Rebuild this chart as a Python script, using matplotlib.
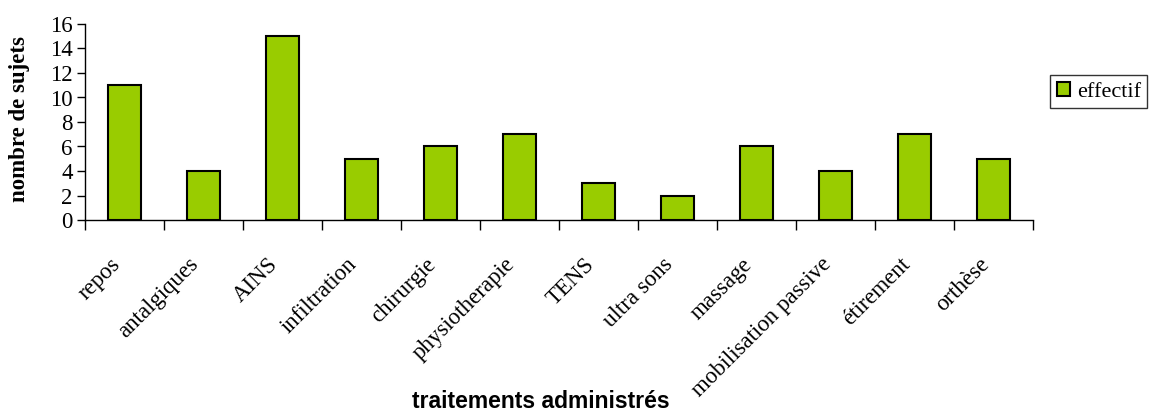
import matplotlib
matplotlib.use("Agg")
import matplotlib.pyplot as plt
import matplotlib.transforms as mtransforms
import numpy as np

categories = ["repos", "antalgiques", "AINS", "infiltration", "chirurgie",
              "physiotherapie", "TENS", "ultra sons", "massage",
              "mobilisation passive", "étirement", "orthèse"]
effectif = [11, 4, 15, 5, 6, 7, 3, 2, 6, 4, 7, 5]
yticks = [0, 2, 4, 6, 8, 10, 12, 14, 16]

SERIF = "Liberation Serif"
SANS = "Liberation Sans"
GREEN = "#99CC00"
FS = 16.5

fig = plt.figure(figsize=(11.49, 4.15), dpi=100)
ax = fig.add_axes([85 / 1149, 1 - 220 / 415, (1033 - 85) / 1149, (220 - 24) / 415])

x = np.arange(len(categories))
ax.bar(x, effectif, width=0.42, color=GREEN, edgecolor="black", linewidth=1.5,
       label="effectif", zorder=3)

ax.set_xlim(-0.5, len(categories) - 0.5)
ax.set_ylim(0, 16)
ax.set_yticks(yticks)
ax.set_yticklabels([str(v) for v in yticks], fontfamily=SERIF, fontsize=FS)
ax.tick_params(axis="y", direction="out", length=6, width=1, pad=3)

# x ticks sit between categories, labels at category centres
ax.set_xticks(np.arange(len(categories) + 1) - 0.5)
ax.set_xticklabels([])
ax.tick_params(axis="x", direction="out", length=7, width=1)
offset = mtransforms.ScaledTranslation(-15 / 100, -34 / 100, fig.dpi_scale_trans)
for i, name in enumerate(categories):
    ax.text(i, 0, name, rotation=45, ha="right", va="top", rotation_mode="anchor",
            fontfamily=SERIF, fontsize=FS,
            transform=ax.transData + offset, clip_on=False)

for s in ["top", "right"]:
    ax.spines[s].set_visible(False)
for s in ["left", "bottom"]:
    ax.spines[s].set_linewidth(1)

fig.text(20 / 1149, 1 - 119 / 415, "nombre de sujets", rotation=90, ha="center",
         va="center", fontfamily=SERIF, fontweight="bold", fontsize=FS)
fig.text(541 / 1149, 1 - 401 / 415, "traitements administrés", ha="center",
         va="center", fontfamily=SANS, fontweight="bold", fontsize=16.5)

leg = fig.legend(loc="upper left", bbox_to_anchor=(1050 / 1149, 1 - 75 / 415),
                 frameon=True, fancybox=False, borderaxespad=0,
                 prop={"family": SERIF, "size": 16},
                 handlelength=0.6, handleheight=0.6, handletextpad=0.3,
                 borderpad=0.3)
leg.get_frame().set_edgecolor("black")
leg.get_frame().set_linewidth(1)

fig.savefig("out.png", dpi=100)
